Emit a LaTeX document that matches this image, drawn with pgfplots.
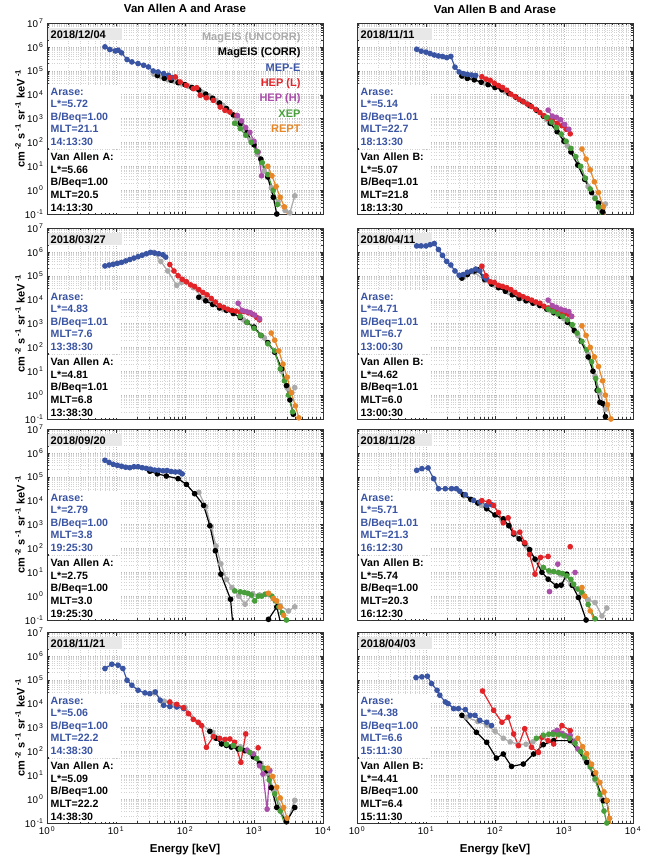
\documentclass[border=0pt]{standalone}
\usepackage{pgfplots}
\pgfplotsset{compat=1.18}
\usepackage{fontspec}
\setmainfont{Liberation Sans}
\definecolor{cblue}{RGB}{58,84,164}
\definecolor{cred}{RGB}{226,36,40}
\definecolor{cpurple}{RGB}{170,78,170}
\definecolor{cgreen}{RGB}{72,158,58}
\definecolor{corange}{RGB}{232,135,40}
\definecolor{cgray}{RGB}{170,170,170}
\definecolor{cbox}{RGB}{232,232,232}
\newcommand\infofont{\fontsize{10.6}{12.6}\selectfont\bfseries}
\newcommand\ylab{cm\,\textsuperscript{-2}~s\,\textsuperscript{-1}~sr\,\textsuperscript{-1}~keV\,\textsuperscript{-1}}
\pgfplotsset{log number format basis/.code 2 args={#1\textsuperscript{\,\pgfmathprintnumber[assume math mode=true]{#2}}}}
\tikzset{
  datebox/.style={anchor=north west, fill=cbox, inner xsep=3pt, inner ysep=2pt, text width=68pt, align=left, font=\fontsize{11}{12}\selectfont\bfseries, yshift=-5pt, xshift=0.5pt},
  vabox/.style={anchor=south west, fill=white, inner xsep=3pt, inner ysep=2pt, text width=66pt, align=left, font=\infofont, text=black, xshift=0.5pt, yshift=0.5pt},
  arbox/.style={anchor=south west, fill=white, inner xsep=3pt, inner ysep=2pt, text width=66pt, align=left, font=\infofont, text=cblue, yshift=3pt},
  sgray/.style={mark=*, line width=1.2pt, mark size=2.2pt, color=cgray},
  sblack/.style={mark=*, line width=1.2pt, mark size=2.2pt, color=black},
  sblue/.style={mark=*, line width=1.2pt, mark size=2.2pt, color=cblue},
  sred/.style={mark=*, line width=1.2pt, mark size=2.2pt, color=cred},
  spurple/.style={mark=*, line width=1.2pt, mark size=2.2pt, color=cpurple},
  sgreen/.style={mark=*, line width=1.2pt, mark size=2.2pt, color=cgreen},
  sorange/.style={mark=*, line width=1.2pt, mark size=2.2pt, color=corange},
}
\pgfplotsset{
  every axis/.append style={
    scale only axis, width=276pt, height=191pt,
    xmin=1, xmax=1e4, ymin=0.1, ymax=1e7,
    xtickten={0,...,4}, ytickten={-1,...,7},
    grid=both,
    major grid style={dotted, gray!55, line width=0.4pt},
    minor grid style={dotted, gray!35, line width=0.4pt},
    axis line style={black!80},
    tick style={black!80},
    major tick length=3.5pt, minor tick length=2pt,
    tick label style={font=\fontsize{9.8}{11}\selectfont},
    title style={font=\fontsize{11.5}{13}\selectfont\bfseries, at={(0.5,1)}, anchor=base, yshift=4pt},
    xlabel style={font=\fontsize{11.5}{13}\selectfont\bfseries, at={(axis description cs:0.5,0)}, anchor=base, yshift=-29pt},
    ylabel style={font=\fontsize{11}{13}\selectfont\bfseries, at={(axis description cs:-0.098,0.5)}, anchor=center},
  },
}
\begin{document}
\begin{tikzpicture}
\path[use as bounding box] (0pt,0pt) rectangle (652pt,-862pt);
% ---------------- Panel 1 ----------------
\begin{loglogaxis}[anchor=north west, at={(47pt,-23pt)}, title={Van Allen A and Arase}, ylabel={\ylab}, xticklabels={}]
\addplot[sgray] table[header=false, x expr=10^\thisrowno{0}, y expr=10^\thisrowno{1}]{
1.55 4.85
1.65 4.75
1.75 4.62
1.85 4.55
1.95 4.45
2.05 4.35
2.15 4.25
2.25 4.1
2.35 3.95
2.45 3.75
2.55 3.55
2.65 3.3
2.75 3.0
2.85 2.6
2.95 2.1
3.05 1.5
3.15 0.8
3.25 0.1
3.35 -0.5
3.45 -0.85
3.52 -0.95
3.59 -0.24
};
\addplot[sblack] table[header=false, x expr=10^\thisrowno{0}, y expr=10^\thisrowno{1}]{
1.6 4.8
1.7 4.68
1.8 4.6
1.9 4.5
2.0 4.42
2.1 4.3
2.2 4.2
2.3 4.02
2.4 3.85
2.5 3.65
2.6 3.42
2.7 3.15
2.8 2.8
2.9 2.4
3.0 1.9
3.1 1.3
3.2 0.55
3.28 -0.3
3.33 -1.0
};
\addplot[sblue] table[header=false, x expr=10^\thisrowno{0}, y expr=10^\thisrowno{1}]{
0.84 6.0
0.91 5.89
0.99 5.83
1.03 5.86
1.08 5.75
1.16 5.47
1.23 5.37
1.32 5.3
1.4 5.23
1.47 5.16
1.54 4.99
1.61 4.95
1.69 4.88
1.76 4.81
1.81 4.71
};
\addplot[sred] table[header=false, x expr=10^\thisrowno{0}, y expr=10^\thisrowno{1}]{
1.78 4.71
1.86 4.74
1.93 4.53
2.02 4.39
2.12 4.25
2.17 4.29
2.22 3.97
2.31 3.87
2.41 3.76
2.51 3.48
2.58 3.34
2.65 3.27
2.75 3.13
};
\addplot[spurple] table[header=false, x expr=10^\thisrowno{0}, y expr=10^\thisrowno{1}]{
2.76 3.12
2.82 2.9
2.88 2.62
2.94 2.42
3.0 2.05
3.06 1.6
3.11 0.6
};
\addplot[sgreen] table[header=false, x expr=10^\thisrowno{0}, y expr=10^\thisrowno{1}]{
2.72 2.8
2.8 2.58
2.88 2.3
2.96 2.0
3.04 1.62
3.12 1.15
3.2 0.65
3.28 0.0
3.34 -0.6
};
\addplot[sorange] table[header=false, x expr=10^\thisrowno{0}, y expr=10^\thisrowno{1}]{
3.2 1.0
3.26 0.6
3.32 0.15
3.38 -0.3
3.44 -0.7
3.5 -1.1
};
\node[datebox] at (rel axis cs:0,1) {2018/12/04};
\node[vabox] (va) at (rel axis cs:0,0) {Van Allen A:\\L*=5.66\\B/Beq=1.00\\MLT=20.5\\14:13:30};
\node[arbox] at (va.north west) {Arase:\\L*=5.72\\B/Beq=1.00\\MLT=21.1\\14:13:30};
\node[anchor=north east, align=right, font=\fontsize{11}{15.3}\selectfont\bfseries, xshift=-19pt, yshift=-6pt] at (rel axis cs:1,1)
 {\textcolor{cgray}{MagEIS (UNCORR)}\\\textcolor{black}{MagEIS (CORR)}\\\textcolor{cblue}{MEP-E}\\\textcolor{cred}{HEP (L)}\\\textcolor{cpurple}{HEP (H)}\\\textcolor{cgreen}{XEP}\\\textcolor{corange}{REPT}};
\end{loglogaxis}
% ---------------- Panel 2 ----------------
\begin{loglogaxis}[anchor=north west, at={(357pt,-23pt)}, title={Van Allen B and Arase}, yticklabels={}, xticklabels={}]
\addplot[sgray] table[header=false, x expr=10^\thisrowno{0}, y expr=10^\thisrowno{1}]{
1.55 4.75
1.7 4.62
1.85 4.48
2.0 4.3
2.15 4.12
2.3 3.9
2.45 3.65
2.6 3.35
2.75 2.95
2.9 2.45
3.05 1.85
3.2 1.05
3.35 0.15
3.45 -0.3
3.52 -0.75
3.6 -0.58
};
\addplot[sblack] table[header=false, x expr=10^\thisrowno{0}, y expr=10^\thisrowno{1}]{
1.52 4.78
1.6 4.68
1.7 4.62
1.8 4.52
1.9 4.42
2.0 4.3
2.1 4.2
2.2 4.05
2.3 3.9
2.4 3.72
2.5 3.55
2.6 3.35
2.7 3.1
2.8 2.8
2.9 2.45
3.0 2.05
3.1 1.6
3.2 1.05
3.3 0.45
3.4 -0.1
3.5 -0.55
3.56 -0.9
};
\addplot[sblue] table[header=false, x expr=10^\thisrowno{0}, y expr=10^\thisrowno{1}]{
0.865 5.9
0.93 5.82
1.0 5.78
1.06 5.72
1.12 5.66
1.18 5.62
1.24 5.6
1.3 5.55
1.36 5.6
1.42 5.15
1.48 4.95
1.54 4.88
1.6 4.85
1.66 4.82
1.72 4.8
};
\addplot[sred] table[header=false, x expr=10^\thisrowno{0}, y expr=10^\thisrowno{1}]{
1.81 4.75
1.87 4.65
1.93 4.6
1.99 4.48
2.05 4.38
2.11 4.3
2.17 4.18
2.23 4.02
2.29 3.92
2.35 3.8
2.41 3.7
2.47 3.6
2.53 3.5
2.59 3.38
2.65 3.25
2.71 3.12
2.77 3.0
2.83 2.95
2.9 2.8
2.97 2.7
3.03 2.55
3.09 2.36
};
\addplot[spurple] table[header=false, x expr=10^\thisrowno{0}, y expr=10^\thisrowno{1}]{
2.77 3.35
2.83 3.1
2.89 3.05
2.95 2.95
3.01 2.75
3.07 2.55
};
\addplot[sgreen] table[header=false, x expr=10^\thisrowno{0}, y expr=10^\thisrowno{1}]{
2.75 3.05
2.82 2.85
2.89 2.62
2.96 2.35
3.03 2.05
3.1 1.75
3.17 1.4
3.24 1.0
3.31 0.5
3.38 0.05
3.45 -0.35
3.5 -0.7
3.53 -1.05
};
\addplot[sorange] table[header=false, x expr=10^\thisrowno{0}, y expr=10^\thisrowno{1}]{
3.26 1.72
3.32 1.3
3.38 0.85
3.44 0.35
3.5 -0.1
3.57 -0.7
3.6 -1.05
};
\node[datebox] at (rel axis cs:0,1) {2018/11/11};
\node[vabox] (va) at (rel axis cs:0,0) {Van Allen B:\\L*=5.07\\B/Beq=1.01\\MLT=21.8\\18:13:30};
\node[arbox] at (va.north west) {Arase:\\L*=5.14\\B/Beq=1.01\\MLT=22.7\\18:13:30};
\end{loglogaxis}
% ---------------- Panel 3 ----------------
\begin{loglogaxis}[anchor=north west, at={(47pt,-228pt)}, ylabel={\ylab}, xticklabels={}]
\addplot[sgray] table[header=false, x expr=10^\thisrowno{0}, y expr=10^\thisrowno{1}]{
1.55 5.98
1.65 5.6
1.75 5.2
1.88 4.6
1.95 4.72
2.02 4.74
2.12 4.5
2.27 4.05
2.4 3.85
2.55 3.6
2.7 3.45
2.85 3.15
3.0 2.85
3.15 2.4
3.3 1.8
3.4 1.0
3.48 0.3
3.55 0.1
3.59 0.32
};
\addplot[sblack] table[header=false, x expr=10^\thisrowno{0}, y expr=10^\thisrowno{1}]{
2.2 4.1
2.3 3.95
2.4 3.8
2.5 3.65
2.6 3.55
2.7 3.42
2.8 3.25
2.9 3.05
3.0 2.85
3.1 2.5
3.2 2.2
3.3 1.8
3.4 1.1
3.47 0.4
3.52 -0.2
3.57 -0.8
};
\addplot[sblue] table[header=false, x expr=10^\thisrowno{0}, y expr=10^\thisrowno{1}]{
0.84 5.41
0.9 5.45
0.96 5.48
1.02 5.52
1.08 5.56
1.14 5.62
1.2 5.68
1.26 5.74
1.32 5.8
1.38 5.86
1.44 5.92
1.5 5.98
1.56 5.95
1.62 5.92
1.68 5.88
1.72 5.78
};
\addplot[sred] table[header=false, x expr=10^\thisrowno{0}, y expr=10^\thisrowno{1}]{
1.78 5.47
1.84 5.2
1.9 5.0
1.96 4.85
2.02 4.75
2.08 4.62
2.14 4.55
2.2 4.42
2.26 4.3
2.32 4.2
2.38 4.05
2.44 3.9
2.5 3.75
2.56 3.68
2.62 3.6
2.68 3.55
2.74 3.52
2.8 3.48
2.86 3.5
2.92 3.45
2.98 3.38
3.04 3.25
3.08 3.15
};
\addplot[spurple] table[header=false, x expr=10^\thisrowno{0}, y expr=10^\thisrowno{1}]{
2.77 3.85
2.83 3.55
2.89 3.5
2.95 3.45
3.01 3.35
3.08 3.2
};
\addplot[sgreen] table[header=false, x expr=10^\thisrowno{0}, y expr=10^\thisrowno{1}]{
2.8 3.3
2.9 3.05
3.0 2.8
3.1 2.5
3.2 2.15
3.3 1.85
3.38 1.1
3.44 0.6
3.5 0.0
3.56 -0.7
};
\addplot[sorange] table[header=false, x expr=10^\thisrowno{0}, y expr=10^\thisrowno{1}]{
3.25 2.6
3.3 2.3
3.36 1.85
3.42 1.3
3.48 0.75
3.54 0.1
3.6 -0.45
3.65 -0.95
};
\node[datebox] at (rel axis cs:0,1) {2018/03/27};
\node[vabox] (va) at (rel axis cs:0,0) {Van Allen A:\\L*=4.81\\B/Beq=1.01\\MLT=6.8\\13:38:30};
\node[arbox] at (va.north west) {Arase:\\L*=4.83\\B/Beq=1.01\\MLT=7.6\\13:38:30};
\end{loglogaxis}
% ---------------- Panel 4 ----------------
\begin{loglogaxis}[anchor=north west, at={(357pt,-228pt)}, yticklabels={}, xticklabels={}]
\addplot[sgray] table[header=false, x expr=10^\thisrowno{0}, y expr=10^\thisrowno{1}]{
1.55 4.95
1.7 5.15
1.85 4.8
2.0 4.6
2.2 4.3
2.4 4.05
2.6 3.85
2.8 3.55
3.0 3.2
3.2 2.5
3.35 1.7
3.45 0.8
3.52 0.1
3.6 -0.6
};
\addplot[sblack] table[header=false, x expr=10^\thisrowno{0}, y expr=10^\thisrowno{1}]{
1.52 4.9
1.6 5.05
1.7 5.2
1.75 5.25
1.85 4.85
1.95 4.65
2.05 4.5
2.15 4.35
2.25 4.2
2.35 4.05
2.45 3.95
2.55 3.85
2.65 3.75
2.75 3.6
2.85 3.45
2.95 3.3
3.05 3.05
3.15 2.7
3.25 2.25
3.35 1.6
3.42 1.0
3.48 0.2
3.52 -0.3
3.56 -0.35
3.6 -0.9
};
\addplot[sblue] table[header=false, x expr=10^\thisrowno{0}, y expr=10^\thisrowno{1}]{
0.865 6.25
0.93 6.25
1.0 6.25
1.06 6.3
1.12 6.35
1.18 6.1
1.24 5.85
1.3 5.6
1.36 5.45
1.42 5.2
1.48 5.02
1.54 5.05
1.6 5.15
1.66 5.2
1.72 5.28
1.78 5.2
1.84 4.95
1.88 4.85
};
\addplot[sred] table[header=false, x expr=10^\thisrowno{0}, y expr=10^\thisrowno{1}]{
1.81 5.4
1.87 5.0
1.93 4.75
1.99 4.72
2.05 4.6
2.11 4.55
2.17 4.5
2.23 4.42
2.29 4.3
2.35 4.2
2.41 4.12
2.47 4.05
2.53 3.98
2.59 3.9
2.65 3.85
2.71 3.72
2.77 3.65
2.83 3.6
2.89 3.55
2.95 3.45
3.01 3.42
3.07 3.38
3.11 3.3
};
\addplot[spurple] table[header=false, x expr=10^\thisrowno{0}, y expr=10^\thisrowno{1}]{
2.77 3.98
2.83 3.75
2.89 3.68
2.95 3.6
3.01 3.55
3.07 3.5
3.11 3.3
};
\addplot[sgreen] table[header=false, x expr=10^\thisrowno{0}, y expr=10^\thisrowno{1}]{
2.77 3.6
2.84 3.5
2.91 3.4
2.98 3.3
3.05 3.15
3.12 2.95
3.19 2.6
3.26 2.25
3.33 1.9
3.4 1.4
3.46 0.7
3.5 0.2
};
\addplot[sorange] table[header=false, x expr=10^\thisrowno{0}, y expr=10^\thisrowno{1}]{
3.26 2.9
3.32 2.5
3.38 2.0
3.44 1.6
3.5 1.2
3.56 0.6
3.6 0.0
3.63 -0.4
3.68 -1.0
};
\node[datebox] at (rel axis cs:0,1) {2018/04/11};
\node[vabox] (va) at (rel axis cs:0,0) {Van Allen B:\\L*=4.62\\B/Beq=1.01\\MLT=6.0\\13:00:30};
\node[arbox] at (va.north west) {Arase:\\L*=4.71\\B/Beq=1.01\\MLT=6.7\\13:00:30};
\end{loglogaxis}
% ---------------- Panel 5 ----------------
\begin{loglogaxis}[anchor=north west, at={(47pt,-429pt)}, ylabel={\ylab}, xticklabels={}]
\addplot[sgray] table[header=false, x expr=10^\thisrowno{0}, y expr=10^\thisrowno{1}]{
2.2 4.35
2.3 3.75
2.38 2.9
2.45 2.1
2.52 1.35
2.6 0.7
2.68 0.36
2.78 0.0
2.87 -0.34
2.98 0.1
3.08 0.05
3.18 0.08
3.28 -0.1
3.38 -0.4
3.5 -0.62
3.59 -0.45
};
\addplot[sblack] table[header=false, x expr=10^\thisrowno{0}, y expr=10^\thisrowno{1}]{
1.49 5.23
1.6 5.12
1.73 5.03
1.9 4.92
2.02 4.68
2.14 4.29
2.27 3.8
2.36 2.95
2.44 1.9
2.52 0.92
2.66 -0.13
2.75 -3.0
3.21 -0.97
3.33 -0.45
3.4 -1.3
};
\addplot[sblue] table[header=false, x expr=10^\thisrowno{0}, y expr=10^\thisrowno{1}]{
0.84 5.69
0.9 5.6
0.96 5.52
1.02 5.48
1.08 5.44
1.14 5.4
1.2 5.38
1.26 5.42
1.32 5.42
1.38 5.38
1.44 5.35
1.5 5.32
1.56 5.28
1.62 5.27
1.68 5.25
1.74 5.26
1.8 5.22
1.86 5.2
1.92 5.2
1.96 5.12
};
\addplot[sgreen] table[header=false, x expr=10^\thisrowno{0}, y expr=10^\thisrowno{1}]{
2.72 0.22
2.8 0.18
2.86 0.15
2.91 0.12
2.96 0.05
3.01 -0.2
3.06 0.0
3.11 0.0
3.16 0.08
3.21 0.1
3.26 0.0
3.31 -0.2
3.36 -0.45
3.41 -0.7
3.47 -1.0
};
\addplot[sorange] table[header=false, x expr=10^\thisrowno{0}, y expr=10^\thisrowno{1}]{
3.21 0.12
3.28 -0.1
3.33 -0.2
3.38 -0.45
3.43 -0.8
3.48 -1.1
};
\node[datebox] at (rel axis cs:0,1) {2018/09/20};
\node[vabox] (va) at (rel axis cs:0,0) {Van Allen A:\\L*=2.75\\B/Beq=1.00\\MLT=3.0\\19:25:30};
\node[arbox] at (va.north west) {Arase:\\L*=2.79\\B/Beq=1.00\\MLT=3.8\\19:25:30};
\end{loglogaxis}
% ---------------- Panel 6 ----------------
\begin{loglogaxis}[anchor=north west, at={(357pt,-429pt)}, yticklabels={}, xticklabels={}]
\addplot[sgray] table[header=false, x expr=10^\thisrowno{0}, y expr=10^\thisrowno{1}]{
1.55 4.2
1.8 3.8
2.1 3.2
2.3 2.6
2.45 2.1
2.6 1.5
2.7 1.2
2.8 1.0
2.95 0.9
3.1 0.5
3.25 0.1
3.35 -0.15
3.45 -0.27
3.55 -0.83
3.62 -0.5
};
\addplot[sblack] table[header=false, x expr=10^\thisrowno{0}, y expr=10^\thisrowno{1}]{
1.54 4.25
1.65 4.05
1.75 3.9
1.88 3.66
2.0 3.4
2.12 3.24
2.2 2.95
2.27 2.6
2.35 2.4
2.43 2.2
2.5 1.95
2.58 1.55
2.68 1.0
2.77 0.71
2.89 0.43
2.96 0.46
3.04 0.92
3.12 0.45
3.21 -0.06
3.32 -1.0
};
\addplot[sblue] table[header=false, x expr=10^\thisrowno{0}, y expr=10^\thisrowno{1}]{
0.865 5.27
0.94 5.34
1.03 5.37
1.11 4.92
1.18 4.5
1.28 4.5
1.37 4.5
1.44 4.5
1.49 4.39
1.57 4.25
1.69 4.01
1.78 3.94
1.88 3.8
1.95 3.83
};
\addplot[sred] table[header=false, x expr=10^\thisrowno{0}, y expr=10^\thisrowno{1}]{
1.81 4.0
1.91 3.95
1.98 3.8
2.05 3.5
2.12 3.07
2.19 3.28
2.27 2.65
2.36 2.68
2.43 2.24
2.5 1.75
2.58 0.92
2.66 1.62
2.77 1.66
};
\addplot[sred, only marks] table[header=false, x expr=10^\thisrowno{0}, y expr=10^\thisrowno{1}]{
3.09 2.07
};
\addplot[spurple, only marks] table[header=false, x expr=10^\thisrowno{0}, y expr=10^\thisrowno{1}]{
2.91 1.34
2.79 0.19
3.16 0.99
};
\addplot[sgreen] table[header=false, x expr=10^\thisrowno{0}, y expr=10^\thisrowno{1}]{
2.7 1.2
2.78 1.06
2.85 1.03
2.92 0.99
2.98 0.95
3.04 0.85
3.1 0.7
3.14 0.5
3.2 0.3
3.26 0.15
3.35 -0.35
3.45 -0.95
3.5 -1.2
};
\addplot[sorange] table[header=false, x expr=10^\thisrowno{0}, y expr=10^\thisrowno{1}]{
3.26 0.36
3.3 0.0
3.38 -0.62
3.45 -1.1
};
\node[datebox] at (rel axis cs:0,1) {2018/11/28};
\node[vabox] (va) at (rel axis cs:0,0) {Van Allen B:\\L*=5.74\\B/Beq=1.00\\MLT=20.3\\16:12:30};
\node[arbox] at (va.north west) {Arase:\\L*=5.71\\B/Beq=1.01\\MLT=21.3\\16:12:30};
\end{loglogaxis}
% ---------------- Panel 7 ----------------
\begin{loglogaxis}[anchor=north west, at={(47pt,-632pt)}, ylabel={\ylab}, xlabel={Energy [keV]}]
\addplot[sgray] table[header=false, x expr=10^\thisrowno{0}, y expr=10^\thisrowno{1}]{
1.55 4.45
1.7 4.1
1.85 3.95
2.0 3.85
2.2 3.2
2.4 2.8
2.6 2.3
2.7 2.25
2.8 2.2
2.9 2.05
3.0 1.8
3.1 1.5
3.2 1.1
3.3 0.3
3.4 -0.4
3.47 -1.05
3.59 -0.05
};
\addplot[sblack] table[header=false, x expr=10^\thisrowno{0}, y expr=10^\thisrowno{1}]{
2.36 2.84
2.45 2.55
2.53 2.31
2.6 2.25
2.67 2.18
2.77 2.1
2.87 2.03
2.99 1.77
3.08 1.5
3.18 1.19
3.25 0.48
3.33 -0.35
3.47 -0.95
3.59 -0.35
};
\addplot[sblue] table[header=false, x expr=10^\thisrowno{0}, y expr=10^\thisrowno{1}]{
0.84 5.47
0.94 5.65
1.03 5.61
1.1 5.47
1.16 4.98
1.23 4.77
1.32 4.56
1.42 4.45
1.49 4.42
1.57 4.49
1.64 4.14
1.69 3.93
1.78 3.88
1.88 3.86
1.98 3.79
};
\addplot[sred] table[header=false, x expr=10^\thisrowno{0}, y expr=10^\thisrowno{1}]{
1.78 4.07
1.88 3.97
1.98 3.83
2.05 3.58
2.12 3.34
2.19 3.22
2.24 3.08
2.31 2.17
2.41 2.62
2.5 2.55
2.58 2.5
2.65 2.52
2.72 2.38
2.81 1.54
2.88 2.73
};
\addplot[sred, only marks] table[header=false, x expr=10^\thisrowno{0}, y expr=10^\thisrowno{1}]{
3.06 2.15
};
\addplot[spurple] table[header=false, x expr=10^\thisrowno{0}, y expr=10^\thisrowno{1}]{
2.9 2.05
2.99 1.9
3.08 1.4
3.13 1.05
3.19 -0.42
3.23 1.2
};
\addplot[sgreen] table[header=false, x expr=10^\thisrowno{0}, y expr=10^\thisrowno{1}]{
2.6 2.3
2.7 2.24
2.8 2.1
2.94 1.96
3.04 1.7
3.14 1.3
3.22 0.8
3.3 0.22
3.38 -0.5
3.45 -1.1
};
\addplot[sorange] table[header=false, x expr=10^\thisrowno{0}, y expr=10^\thisrowno{1}]{
3.2 1.3
3.27 0.95
3.33 0.5
3.38 0.05
3.43 -0.35
3.48 -0.8
3.52 -1.1
};
\node[datebox] at (rel axis cs:0,1) {2018/11/21};
\node[vabox] (va) at (rel axis cs:0,0) {Van Allen A:\\L*=5.09\\B/Beq=1.00\\MLT=22.2\\14:38:30};
\node[arbox] at (va.north west) {Arase:\\L*=5.06\\B/Beq=1.00\\MLT=22.2\\14:38:30};
\end{loglogaxis}
% ---------------- Panel 8 ----------------
\begin{loglogaxis}[anchor=north west, at={(357pt,-632pt)}, yticklabels={}, xlabel={Energy [keV]}]
\addplot[sgray] table[header=false, x expr=10^\thisrowno{0}, y expr=10^\thisrowno{1}]{
1.59 3.43
1.75 3.25
1.88 3.1
2.0 2.85
2.12 2.55
2.22 2.4
2.33 2.3
2.45 2.3
2.55 2.4
2.7 2.6
2.85 2.7
3.0 2.7
3.15 2.45
3.3 1.7
3.45 0.8
3.55 0.0
};
\addplot[sblack] table[header=false, x expr=10^\thisrowno{0}, y expr=10^\thisrowno{1}]{
1.52 3.51
1.73 2.8
1.88 2.38
2.02 1.72
2.12 1.89
2.24 1.37
2.41 1.47
2.56 1.89
2.7 2.28
2.85 2.45
3.09 2.45
3.33 1.54
3.43 1.05
3.57 -0.07
3.62 -0.07
3.68 -1.2
};
\addplot[sblue] table[header=false, x expr=10^\thisrowno{0}, y expr=10^\thisrowno{1}]{
0.855 5.09
0.94 5.12
1.02 5.15
1.08 4.84
1.16 4.56
1.2 4.35
1.28 4.07
1.32 4.0
1.4 3.79
1.47 3.79
1.57 3.75
1.64 3.51
1.71 3.51
1.78 3.3
1.88 3.22
1.95 3.08
};
\addplot[sred] table[header=false, x expr=10^\thisrowno{0}, y expr=10^\thisrowno{1}]{
1.82 4.53
1.98 3.72
2.1 3.22
2.19 3.43
2.27 2.73
2.34 2.24
2.43 2.95
2.53 2.17
2.63 1.96
2.68 2.59
2.77 2.45
2.85 2.31
2.97 3.08
3.09 2.87
};
\addplot[spurple] table[header=false, x expr=10^\thisrowno{0}, y expr=10^\thisrowno{1}]{
2.85 2.8
2.9 2.88
2.97 2.75
3.03 2.65
3.09 2.67
3.15 2.4
3.2 2.1
};
\addplot[sgreen] table[header=false, x expr=10^\thisrowno{0}, y expr=10^\thisrowno{1}]{
2.6 2.55
2.7 2.68
2.78 2.72
2.84 2.72
2.92 2.7
3.0 2.65
3.08 2.55
3.16 2.35
3.24 2.0
3.3 1.75
3.38 1.35
3.45 0.85
3.52 0.2
3.58 -0.5
3.62 -1.0
};
\addplot[sorange] table[header=false, x expr=10^\thisrowno{0}, y expr=10^\thisrowno{1}]{
3.2 2.55
3.27 2.2
3.33 1.9
3.4 1.46
3.46 1.1
3.52 0.7
3.58 0.3
3.62 -0.06
3.66 -0.8
3.69 -1.2
};
\node[datebox] at (rel axis cs:0,1) {2018/04/03};
\node[vabox] (va) at (rel axis cs:0,0) {Van Allen B:\\L*=4.41\\B/Beq=1.00\\MLT=6.4\\15:11:30};
\node[arbox] at (va.north west) {Arase:\\L*=4.38\\B/Beq=1.00\\MLT=6.6\\15:11:30};
\end{loglogaxis}
\end{tikzpicture}
\end{document}
